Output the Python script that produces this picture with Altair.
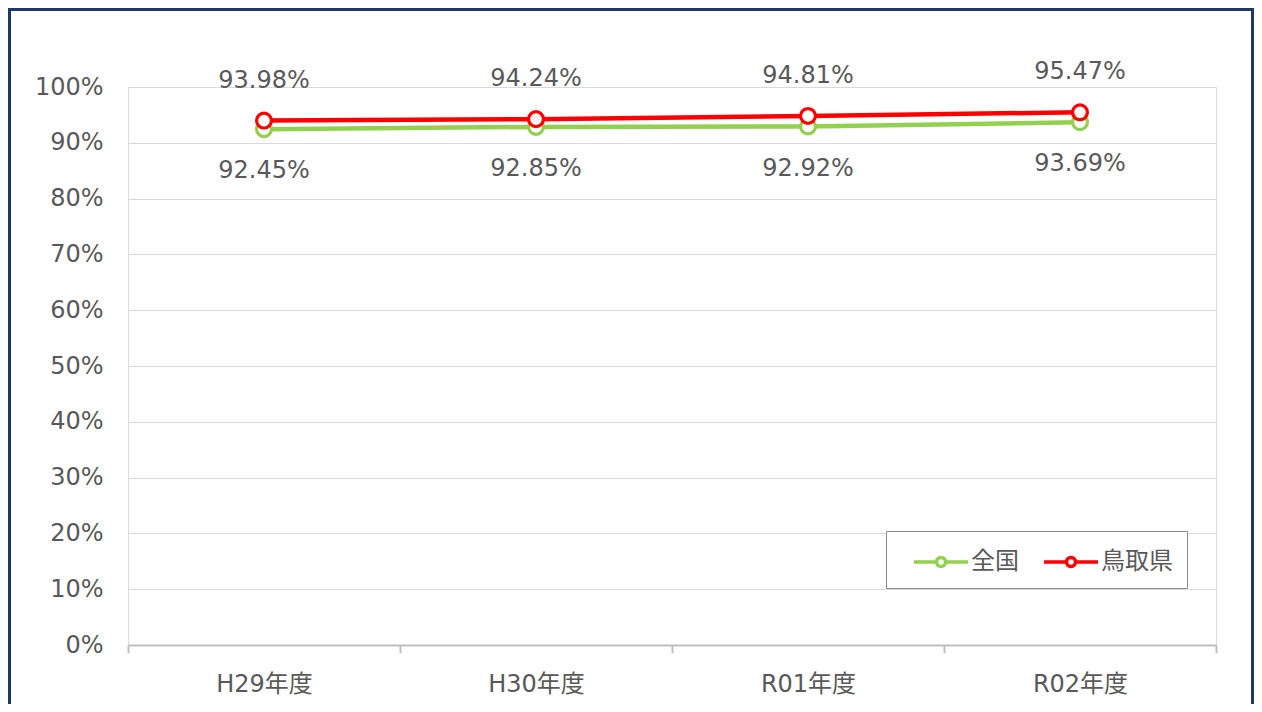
import altair as alt
import pandas as pd

years = ["H29年度", "H30年度", "R01年度", "R02年度"]
series = ["全国", "鳥取県"]
zenkoku = [0.9245, 0.9285, 0.9292, 0.9369]
tottori = [0.9398, 0.9424, 0.9481, 0.9547]
colors = ["#92D050", "#FF0000"]

rows = []
for y, v in zip(years, zenkoku):
    rows.append({"year": y, "series": "全国", "value": v})
for y, v in zip(years, tottori):
    rows.append({"year": y, "series": "鳥取県", "value": v})
df = pd.DataFrame(rows)

FONT = "DejaVu Sans, Noto Sans CJK JP"
GREY = "#595959"

# legend symbol: line with an open circle (units of r = 15px)
legend_path = ("M-0.2,0L1.3,0M1.9,0L3.4,0"
               "M1.3,0A0.3,0.3 0 1,0 1.9,0A0.3,0.3 0 1,0 1.3,0Z")

x_enc = alt.X("year:N", sort=years, title=None,
              scale=alt.Scale(paddingInner=0, paddingOuter=0),
              axis=alt.Axis(labelAngle=0, labelFontSize=24, labelColor=GREY,
                            labelFont=FONT, tickBand="extent", tickSize=8,
                            tickColor="#bfbfbf", tickWidth=2,
                            domainColor="#bfbfbf", domainWidth=2,
                            labelPadding=19, grid=False))
y_enc = alt.Y("value:Q", title=None,
              scale=alt.Scale(domain=[0, 1], nice=False, zero=True),
              axis=alt.Axis(format=".0%", values=[i / 10 for i in range(11)],
                            labelFontSize=24, labelColor=GREY, labelFont=FONT,
                            ticks=False, domain=False, labelPadding=25,
                            gridColor="#d9d9d9", gridWidth=1))
color_enc = alt.Color("series:N", sort=series,
                      scale=alt.Scale(domain=series, range=colors),
                      legend=alt.Legend(title=None, orient="none",
                                        legendX=758, legendY=444,
                                        direction="horizontal",
                                        symbolType=legend_path, symbolSize=900,
                                        symbolStrokeWidth=3.5,
                                        symbolFillColor="white",
                                        labelFontSize=24, labelColor=GREY,
                                        labelFont=FONT, labelOffset=37,
                                        columnPadding=11, padding=14,
                                        strokeColor="#8c8c8c",
                                        fillColor="white"))

base = alt.Chart(df)

lines = base.mark_line(strokeWidth=4.5).encode(x=x_enc, y=y_enc, color=color_enc)
points = base.mark_point(shape="circle", size=220, strokeWidth=3.2, fill="white",
                         opacity=1, filled=False).encode(
    x=x_enc, y=y_enc, color=color_enc)

lab_top = base.transform_filter(alt.datum.series == "鳥取県").mark_text(
    fontSize=24, font=FONT, color=GREY, dy=-40).encode(
    x=x_enc, y=y_enc, text=alt.Text("value:Q", format=".2%"))
lab_bot = base.transform_filter(alt.datum.series == "全国").mark_text(
    fontSize=24, font=FONT, color=GREY, dy=42).encode(
    x=x_enc, y=y_enc, text=alt.Text("value:Q", format=".2%"))

frame = alt.Chart(alt.Data(values=[{}])).mark_rect(
    fill=None, stroke="#203864", strokeWidth=3).encode(
    x=alt.value(-118.5), x2=alt.value(1124.5),
    y=alt.value(-77.5), y2=alt.value(700))

chart = alt.layer(lines, points, lab_top, lab_bot, frame).properties(
    width=1088, height=558,
    autosize=alt.AutoSizeParams(type="none"),
    padding={"left": 120, "top": 79, "right": 38, "bottom": 59},
).configure_view(stroke=None).configure(background="white")

chart.save("out.html", embed_options={"renderer": "svg", "actions": False})
